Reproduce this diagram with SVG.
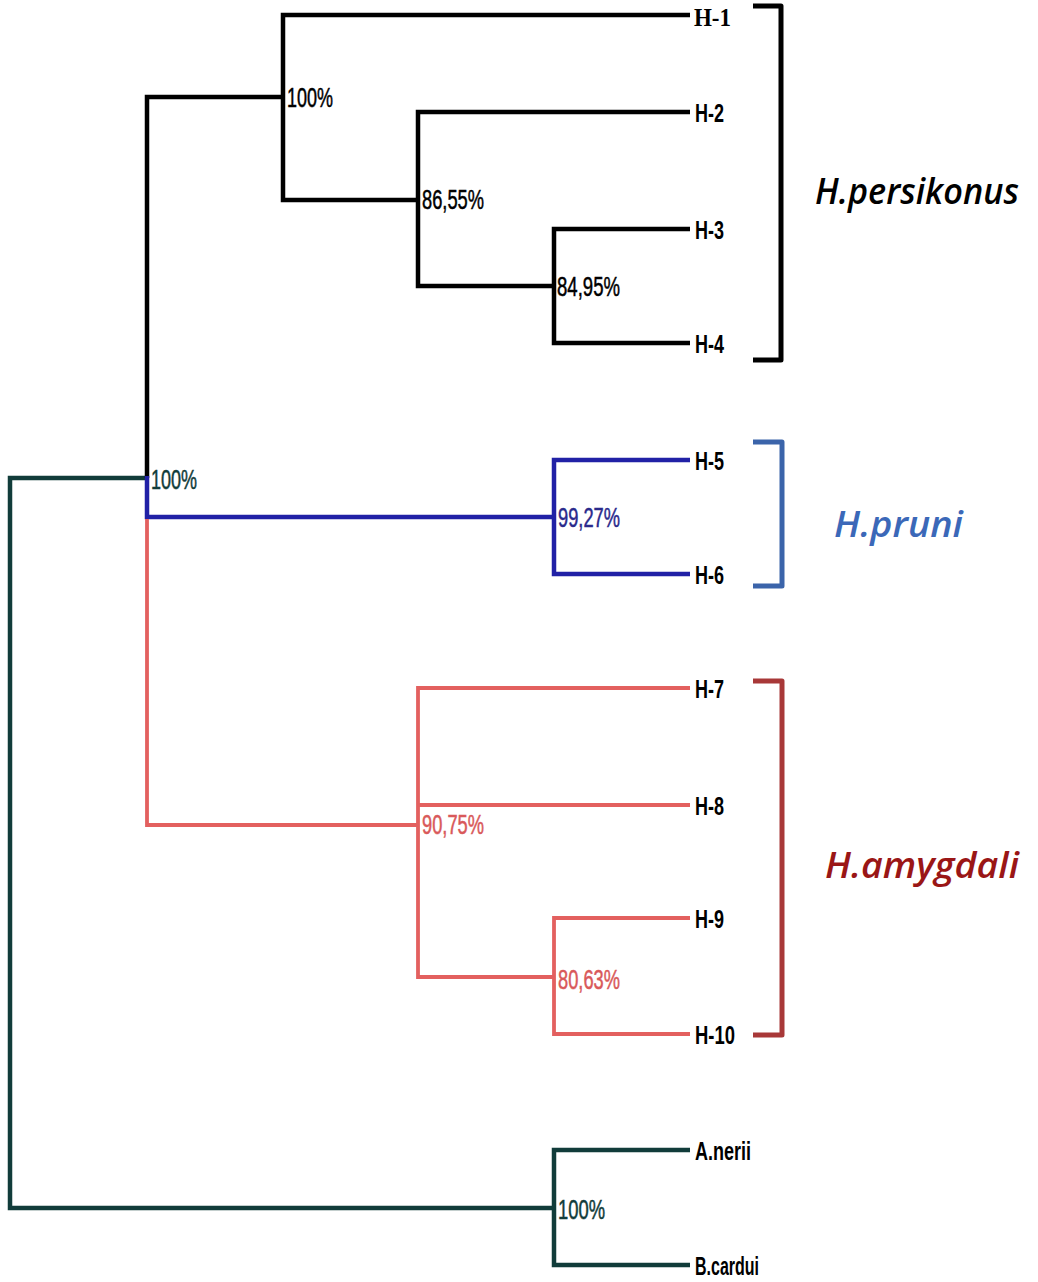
<svg xmlns="http://www.w3.org/2000/svg" width="1038" height="1282" viewBox="0 0 1038 1282">
  <style>
    .br { fill: none; stroke-linecap: butt; stroke-linejoin: miter; }
    .k { stroke: #000000; stroke-width: 4.5; }
    .b { stroke: #2121a6; stroke-width: 4.5; }
    .r { stroke: #e3605f; stroke-width: 3.8; }
    .t { stroke: #113c3a; stroke-width: 4.5; }
    .sup { font-family: "Liberation Sans", Arial, sans-serif; font-size: 27px; stroke-width: 0.5px; }
    .leaf { font-family: "Liberation Sans", Arial, sans-serif; font-size: 25px; font-weight: bold; fill: #000; }
    .grp { font-family: "Open Sans", "Liberation Sans", sans-serif; font-size: 36px; font-style: italic; font-weight: 600; }
    .bracket { fill: none; stroke-width: 5; stroke-linejoin: round; }
  </style>
  <rect width="1038" height="1282" fill="#ffffff"/>

  <!-- tree branches -->
  <g id="connectors">
    <!-- outgroup / root (dark teal) -->
    <path class="br t" d="M147,478 H10 V1208 H554"/>
    <path class="br t" d="M690,1150 H554 V1265 H690"/>
    <!-- H.persikonus clade (black) -->
    <path class="br k" d="M147,478 V97 H283"/>
    <path class="br k" d="M690,15 H283 V200 H418"/>
    <path class="br k" d="M690,112 H418 V286 H554"/>
    <path class="br k" d="M690,229 H554 V343 H690"/>
    <!-- H.pruni clade (blue) -->
    <path class="br b" d="M147,476 V517 H554"/>
    <path class="br b" d="M690,460 H554 V574 H690"/>
    <!-- H.amygdali clade (red) -->
    <path class="br r" d="M147,519 V825 H418"/>
    <path class="br r" d="M690,688 H418 V977 H554"/>
    <path class="br r" d="M418,805 H690"/>
    <path class="br r" d="M690,918 H554 V1034 H690"/>
  </g>

  <!-- bootstrap support values -->
  <g id="support">
    <text class="sup" x="287" y="107" fill="#000" stroke="#000" textLength="46" lengthAdjust="spacingAndGlyphs">100%</text>
    <text class="sup" x="422" y="209" fill="#000" stroke="#000" textLength="62" lengthAdjust="spacingAndGlyphs">86,55%</text>
    <text class="sup" x="557" y="296" fill="#000" stroke="#000" textLength="63" lengthAdjust="spacingAndGlyphs">84,95%</text>
    <text class="sup" x="151" y="489" fill="#113c3a" stroke="#113c3a" textLength="46" lengthAdjust="spacingAndGlyphs">100%</text>
    <text class="sup" x="558" y="527" fill="#2a2a8c" stroke="#2a2a8c" textLength="62" lengthAdjust="spacingAndGlyphs">99,27%</text>
    <text class="sup" x="422" y="834" fill="#d9595a" stroke="#d9595a" textLength="62" lengthAdjust="spacingAndGlyphs">90,75%</text>
    <text class="sup" x="558" y="989" fill="#d9595a" stroke="#d9595a" textLength="62" lengthAdjust="spacingAndGlyphs">80,63%</text>
    <text class="sup" x="558" y="1219" fill="#113c3a" stroke="#113c3a" textLength="47" lengthAdjust="spacingAndGlyphs">100%</text>
  </g>

  <!-- leaves -->
  <g id="H-1"><text x="694" y="26" font-family="Liberation Serif, serif" font-size="25" font-weight="bold" textLength="37" lengthAdjust="spacingAndGlyphs">H-1</text></g>
  <g id="H-2"><text class="leaf" x="695" y="122" textLength="29" lengthAdjust="spacingAndGlyphs">H-2</text></g>
  <g id="H-3"><text class="leaf" x="695" y="239" textLength="29" lengthAdjust="spacingAndGlyphs">H-3</text></g>
  <g id="H-4"><text class="leaf" x="695" y="353" textLength="29" lengthAdjust="spacingAndGlyphs">H-4</text></g>
  <g id="H-5"><text class="leaf" x="695" y="470" textLength="29" lengthAdjust="spacingAndGlyphs">H-5</text></g>
  <g id="H-6"><text class="leaf" x="695" y="584" textLength="29" lengthAdjust="spacingAndGlyphs">H-6</text></g>
  <g id="H-7"><text class="leaf" x="695" y="698" textLength="29" lengthAdjust="spacingAndGlyphs">H-7</text></g>
  <g id="H-8"><text class="leaf" x="695" y="815" textLength="29" lengthAdjust="spacingAndGlyphs">H-8</text></g>
  <g id="H-9"><text class="leaf" x="695" y="928" textLength="29" lengthAdjust="spacingAndGlyphs">H-9</text></g>
  <g id="H-10"><text class="leaf" x="695" y="1044" textLength="40" lengthAdjust="spacingAndGlyphs">H-10</text></g>
  <g id="A.nerii"><text class="leaf" x="695" y="1160" textLength="56" lengthAdjust="spacingAndGlyphs">A.nerii</text></g>
  <g id="B.cardui"><text class="leaf" x="695" y="1275" textLength="64" lengthAdjust="spacingAndGlyphs">B.cardui</text></g>

  <!-- species brackets and names -->
  <g id="H.persikonus">
    <path class="bracket" stroke="#000" d="M753,6 H781 V360 H753"/>
    <text class="grp" x="815" y="204" fill="#000" textLength="204" lengthAdjust="spacingAndGlyphs">H.persikonus</text>
  </g>
  <g id="H.pruni">
    <path class="bracket" stroke="#3b64aa" d="M753,442 H782 V586 H753"/>
    <text class="grp" x="834" y="537" fill="#3b68b8" textLength="129" lengthAdjust="spacingAndGlyphs">H.pruni</text>
  </g>
  <g id="H.amygdali">
    <path class="bracket" stroke="#a83838" d="M753,681 H782 V1035 H753"/>
    <text class="grp" x="825" y="878" fill="#9a1616" textLength="194" lengthAdjust="spacingAndGlyphs">H.amygdali</text>
  </g>
</svg>
